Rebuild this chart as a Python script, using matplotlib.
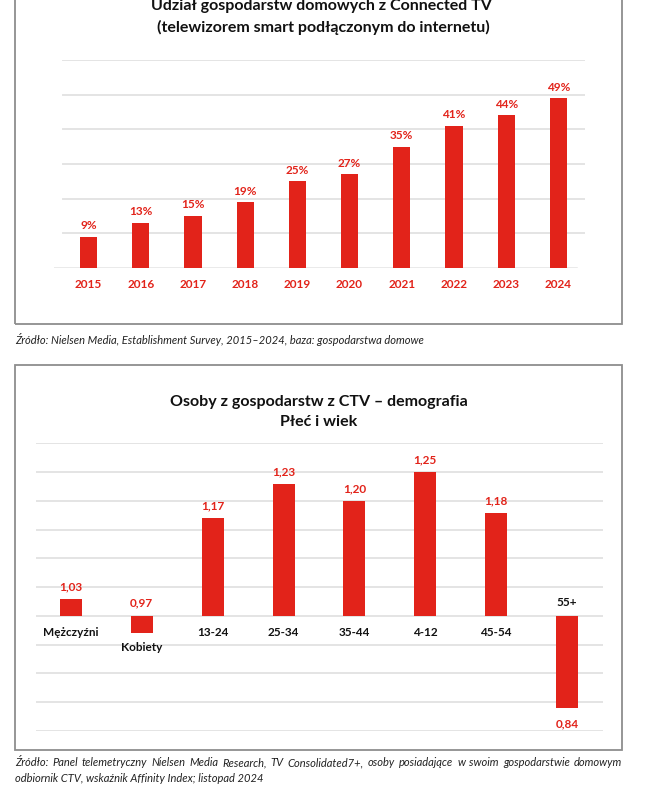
import numpy as np
import matplotlib
matplotlib.use('Agg')
import matplotlib.pyplot as plt
from matplotlib.patches import Rectangle

plt.rcParams['font.family'] = ['Lato', 'DejaVu Sans']

# top chart data
years = ['2015', '2016', '2017', '2018', '2019', '2020', '2021', '2022', '2023', '2024']
share = [9, 13, 15, 19, 25, 27, 35, 41, 44, 49]

# bottom chart data
groups = ['Mężczyźni', 'Kobiety', '13-24', '25-34', '35-44', '4-12', '45-54', '55+']
affinity = [1.03, 0.97, 1.17, 1.23, 1.20, 1.25, 1.18, 0.84]

RED = '#E2231A'
GRID = '#E4E4E4'
W, H = 655, 787

fig = plt.figure(figsize=(W / 100, H / 100), dpi=100)

def box(x0, y0, x1, y1):
    # pixel coords, y from top
    return [x0 / W, 1 - y1 / H, (x1 - x0) / W, (y1 - y0) / H]

# frames
for (x0, y0, x1, y1) in [(15, -20, 622, 324), (15, 365, 622, 750)]:
    fig.patches.append(Rectangle((x0 / W, 1 - y1 / H), (x1 - x0) / W, (y1 - y0) / H,
                                 transform=fig.transFigure, fill=False,
                                 edgecolor='#8e8e8e', linewidth=1.3))

# ---------- top chart ----------
ax1 = fig.add_axes(box(54, 60, 585, 268))
x1 = np.arange(len(years))
ax1.bar(x1, share, width=0.33, color=RED, zorder=3)
ax1.set_xlim(-0.661, 9.51)
ax1.set_ylim(0, 60)
for g in range(10, 70, 10):
    ax1.axhline(g, xmin=9 / 531, xmax=1, color=GRID, linewidth=1.4, zorder=1)
ax1.axhline(0, xmin=0, xmax=522 / 531, color=GRID, linewidth=1.8, zorder=1)
for i, v in enumerate(share):
    ax1.annotate('%d%%' % v, (i, v), xytext=(0, 11), textcoords='offset pixels',
                 ha='center', va='center', color=RED, fontsize=8.5, fontweight='bold')
    ax1.annotate(years[i], (i, 0), xytext=(0, -17), textcoords='offset pixels',
                 ha='center', va='center', color=RED, fontsize=8.5, fontweight='bold')
ax1.axis('off')

fig.text(321 / W, 1 - 6 / H, 'Udział gospodarstw domowych z Connected TV',
         ha='center', va='center', fontsize=11.5, fontweight='bold', color='#111111')
fig.text(323 / W, 1 - 27 / H, '(telewizorem smart podłączonym do internetu)',
         ha='center', va='center', fontsize=11.5, fontweight='bold', color='#111111')

FOOT = dict(ha='left', va='center', fontsize=8, style='italic', color='#222222')
fig.text(15 / W, 1 - 339 / H,
         'Źródło: Nielsen Media, Establishment Survey, 2015–2024, baza: gospodarstwa domowe',
         **FOOT)

# ---------- bottom chart ----------
ax2 = fig.add_axes(box(35.5, 443.5, 602.5, 731))
x2 = np.arange(len(groups))
ax2.bar(x2, [v - 1 for v in affinity], bottom=1, width=0.31, color=RED, zorder=3)
ax2.set_xlim(-0.5, 7.5)
ax2.set_ylim(0.80, 1.30)
for g in np.arange(0.80, 1.31, 0.05):
    ax2.axhline(g, color=GRID, linewidth=1.4, zorder=1)
for i, v in enumerate(affinity):
    val = ('%.2f' % v).replace('.', ',')
    if i == 1:
        ax2.annotate(val, (i, 1), xytext=(0, 13), textcoords='offset pixels',
                     ha='center', va='center', color=RED, fontsize=8.5, fontweight='bold')
        ax2.annotate(groups[i], (i, v), xytext=(0, -14), textcoords='offset pixels',
                     ha='center', va='center', color='#111111', fontsize=8.5, fontweight='bold')
    elif v < 1:
        ax2.annotate(val, (i, v), xytext=(0, -16), textcoords='offset pixels',
                     ha='center', va='center', color=RED, fontsize=8.5, fontweight='bold')
        ax2.annotate(groups[i], (i, 1), xytext=(0, 13), textcoords='offset pixels',
                     ha='center', va='center', color='#111111', fontsize=8.5, fontweight='bold')
    else:
        ax2.annotate(val, (i, v), xytext=(0, 12), textcoords='offset pixels',
                     ha='center', va='center', color=RED, fontsize=8.5, fontweight='bold')
        ax2.annotate(groups[i], (i, 1), xytext=(0, -17), textcoords='offset pixels',
                     ha='center', va='center', color='#111111', fontsize=8.5, fontweight='bold')
ax2.axis('off')

fig.text(318.5 / W, 1 - 402 / H, 'Osoby z gospodarstw z CTV – demografia',
         ha='center', va='center', fontsize=11.5, fontweight='bold', color='#111111')
fig.text(318.5 / W, 1 - 422 / H, 'Płeć i wiek',
         ha='center', va='center', fontsize=11.5, fontweight='bold', color='#111111')

# justified first line of the second footnote
line = 'Źródło: Panel telemetryczny Nielsen Media Research, TV Consolidated7+, osoby posiadające w swoim gospodarstwie domowym'
words = line.split(' ')
renderer = fig.canvas.get_renderer()
items = [fig.text(0, 1 - 763 / H, w, **FOOT) for w in words]
widths = [t.get_window_extent(renderer).width for t in items]
gap = (622 - 15 - sum(widths)) / (len(words) - 1)
xpos = 15
for t, w in zip(items, widths):
    t.set_x(xpos / W)
    xpos += w + gap
fig.text(15 / W, 1 - 779 / H,
         'odbiornik CTV, wskaźnik Affinity Index; listopad 2024', **FOOT)

fig.savefig('out.png', dpi=100)
